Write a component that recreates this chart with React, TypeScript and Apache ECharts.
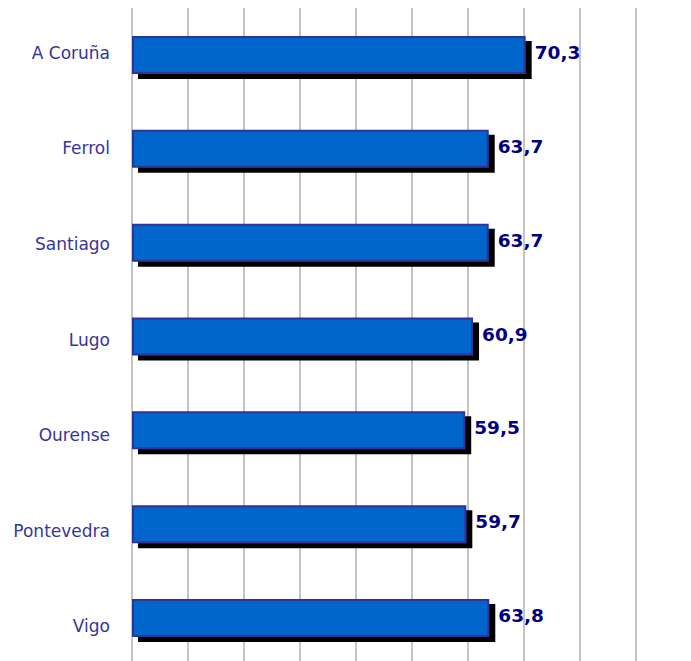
import React, { useEffect, useRef } from "react";
import * as echarts from "echarts";

const categories = ["A Coruña", "Ferrol", "Santiago", "Lugo", "Ourense", "Pontevedra", "Vigo"];
const values = [70.3, 63.7, 63.7, 60.9, 59.5, 59.7, 63.8];

export default function App() {
  const ref = useRef<HTMLDivElement>(null);
  useEffect(() => {
    if (!ref.current) return;
    const chart = echarts.init(ref.current, null, { renderer: "svg" });
    chart.setOption({
      animation: false,
      backgroundColor: "#ffffff",
      grid: [
        { left: 132, top: 8, width: 560, height: 657, containLabel: false },
        { left: 132, top: 5, width: 560, height: 669, containLabel: false },
      ],
      xAxis: [
        {
          type: "value",
          gridIndex: 0,
          min: 0,
          max: 100,
          interval: 10,
          axisLabel: { show: false },
          axisLine: { show: false },
          axisTick: { show: false },
          splitLine: { show: true, lineStyle: { color: "#c4c4c4", width: 2 } },
        },
        {
          type: "value",
          gridIndex: 1,
          min: 0,
          max: 100,
          show: false,
        },
      ],
      yAxis: [
        {
          type: "category",
          gridIndex: 0,
          data: categories,
          inverse: true,
          axisLine: { show: false },
          axisTick: { show: false },
          axisLabel: { show: false },
        },
        {
          type: "category",
          gridIndex: 1,
          data: categories,
          inverse: true,
          axisLine: { show: false },
          axisTick: { show: false },
          splitLine: { show: false },
          axisLabel: {
            margin: 22,
            fontSize: 17,
            fontFamily: "DejaVu Sans",
            color: "#35359c",
          },
        },
      ],
      series: [
        {
          type: "bar",
          xAxisIndex: 0,
          yAxisIndex: 0,
          data: values,
          barWidth: 38,
          itemStyle: {
            color: "#0066cc",
            borderColor: "#333399",
            borderWidth: 2,
            shadowColor: "#000000",
            shadowBlur: 0,
            shadowOffsetX: 6,
            shadowOffsetY: 5,
          },
          label: {
            show: true,
            position: "right",
            distance: 9,
            offset: [0, -2.5],
            formatter: (p: any) => String(p.value).replace(".", ","),
            fontSize: 18.5,
            fontWeight: "bold",
            fontFamily: "DejaVu Sans",
            color: "#000080",
          },
        },
      ],
    });
    return () => chart.dispose();
  }, []);
  return (
    <div
      ref={ref}
      style={{ position: "absolute", left: 0, top: 0, width: 700, height: 680 }}
    />
  );
}
